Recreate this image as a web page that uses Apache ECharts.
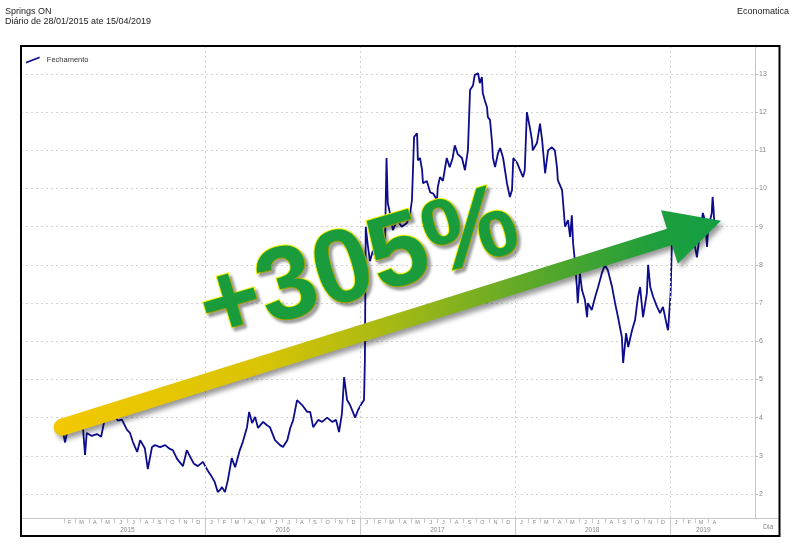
<!DOCTYPE html>
<html><head><meta charset="utf-8">
<script src="https://cdn.jsdelivr.net/npm/echarts@6/dist/echarts.min.js"></script>
<style>html,body{margin:0;padding:0;background:#fff}#c{width:800px;height:547px}</style>
</head><body><div id="c"></div>
<script>
const dates = [
'2015-01-28','2015-02-04','2015-02-10','2015-02-22','2015-03-06','2015-03-18','2015-03-23','2015-03-27','2015-04-08','2015-04-20',
'2015-04-30','2015-05-09','2015-05-21','2015-05-30','2015-06-09','2015-06-18','2015-06-30','2015-07-07','2015-07-14','2015-07-24',
'2015-07-31','2015-08-11','2015-08-18','2015-08-28','2015-09-04','2015-09-16','2015-09-28','2015-10-09','2015-10-16','2015-10-26',
'2015-11-09','2015-11-18','2015-11-26','2015-12-05','2015-12-14','2015-12-26',
'2016-01-07','2016-01-16','2016-01-23','2016-01-30','2016-02-04','2016-02-09','2016-02-16','2016-02-23','2016-03-03','2016-03-11',
'2016-03-22','2016-03-29','2016-04-08','2016-04-13','2016-04-20','2016-04-27','2016-05-04','2016-05-16','2016-05-25','2016-06-01',
'2016-06-13','2016-06-25','2016-07-02','2016-07-12','2016-07-19','2016-07-26','2016-08-04','2016-08-16','2016-08-28','2016-09-04',
'2016-09-11','2016-09-23','2016-10-02','2016-10-14','2016-10-26','2016-11-04','2016-11-11','2016-11-18','2016-11-23','2016-11-30',
'2016-12-07','2016-12-19','2016-12-26',
'2017-01-04','2017-01-09','2017-01-11','2017-01-13','2017-01-18','2017-01-23','2017-01-30','2017-02-08','2017-02-16','2017-02-27',
'2017-03-03','2017-03-06','2017-03-11','2017-03-18','2017-03-28','2017-04-08','2017-04-20','2017-04-27','2017-05-02','2017-05-07',
'2017-05-14','2017-05-16','2017-05-21','2017-05-26','2017-05-28','2017-06-06','2017-06-14','2017-06-21','2017-06-30','2017-07-02',
'2017-07-07','2017-07-14','2017-07-23','2017-07-30','2017-08-06','2017-08-11','2017-08-18','2017-08-28','2017-09-04','2017-09-11',
'2017-09-16','2017-09-23','2017-09-27','2017-10-05','2017-10-09','2017-10-14','2017-10-16','2017-10-21','2017-10-26','2017-10-28',
'2017-11-02','2017-11-07','2017-11-09','2017-11-14','2017-11-21','2017-11-26','2017-12-03','2017-12-12','2017-12-19','2017-12-24',
'2017-12-27',
'2018-01-05','2018-01-12','2018-01-19','2018-01-23','2018-01-28','2018-02-04','2018-02-09','2018-02-11','2018-02-21','2018-02-28',
'2018-03-05','2018-03-12','2018-03-19','2018-03-28','2018-04-04','2018-04-09','2018-04-11','2018-04-21','2018-04-23','2018-04-28',
'2018-05-05','2018-05-10','2018-05-14','2018-05-17','2018-05-21','2018-05-26','2018-05-28','2018-06-02','2018-06-07','2018-06-14',
'2018-06-19','2018-06-21','2018-06-30','2018-07-08','2018-07-15','2018-07-24','2018-07-31','2018-08-07','2018-08-17','2018-08-24',
'2018-08-31','2018-09-09','2018-09-12','2018-09-19','2018-09-24','2018-10-03','2018-10-10','2018-10-17','2018-10-22','2018-10-29',
'2018-11-07','2018-11-10','2018-11-15','2018-11-22','2018-12-01','2018-12-08','2018-12-15','2018-12-25','2018-12-27',
'2019-01-02','2019-01-05','2019-01-12','2019-01-24','2019-02-05','2019-02-16','2019-02-28','2019-03-05','2019-03-12','2019-03-19',
'2019-03-24','2019-03-29','2019-03-31','2019-04-09','2019-04-11','2019-04-13','2019-04-15'
];
const closes = [
3.75,3.35,3.70,3.73,3.70,3.75,3.02,3.60,3.52,3.57,
3.50,4.00,3.94,4.05,3.92,3.95,3.68,3.60,3.36,3.10,
3.41,3.20,2.65,3.23,3.28,3.23,3.28,3.18,3.15,2.92,
2.73,3.15,2.97,2.79,2.73,2.84,
2.60,2.45,2.31,2.05,2.10,2.18,2.05,2.37,2.94,2.70,
3.15,3.36,3.75,4.15,3.86,4.02,3.73,3.89,3.80,3.75,
3.41,3.28,3.23,3.41,3.73,3.94,4.46,4.33,4.15,4.15,
3.75,3.94,3.89,4.00,3.89,3.94,3.62,4.12,5.06,4.46,
4.33,4.00,4.20,
4.38,4.46,5.50,9.00,8.50,8.10,8.38,8.10,8.45,8.30,
10.80,9.62,9.36,8.91,9.17,9.00,9.10,9.30,9.70,11.35,
11.45,10.74,10.80,10.48,10.14,10.20,9.90,9.87,9.70,10.04,
10.30,10.20,10.80,10.56,10.80,11.13,10.90,10.80,10.48,11.00,
12.58,12.70,12.97,13.02,12.76,12.92,12.50,12.30,12.13,11.87,
11.80,11.20,10.80,10.56,10.93,11.06,10.80,10.14,9.78,9.96,
10.80,
10.67,10.48,10.30,10.48,12.00,11.60,11.27,11.00,11.20,11.70,
11.27,10.40,11.00,11.08,11.00,10.56,10.22,9.96,9.70,9.00,
9.17,8.73,9.30,8.57,8.13,7.42,7.00,7.79,7.34,7.08,
6.63,7.00,6.82,7.16,7.42,7.79,8.00,7.86,7.42,7.00,
6.63,6.11,5.43,6.21,5.85,6.29,6.55,7.16,7.42,6.63,
7.26,8.00,7.42,7.16,6.90,6.74,6.90,6.37,6.29,
7.26,8.57,8.96,8.78,8.65,8.86,8.52,8.20,8.83,9.36,
9.17,8.47,8.91,9.36,9.78,9.50,9.10
];
const monthLetters = ['J','F','M','A','M','J','J','A','S','O','N','D'];
const yearLabels = ['2015','2016','2017','2018','2019'];
const yearLabelDates = ['2015-07-01','2016-07-01','2017-07-01','2018-07-01','2019-03-20'];
const yearBoundaryDates = ['2016-01-01','2017-01-01','2018-01-01','2019-01-01'];
const seriesName = 'Fechamento';
const overlayText = '+305%';

const P = s => { const a = s.split('-').map(Number); return new Date(a[0], a[1] - 1, a[2]).getTime(); };
const tMin = P('2014-10-23'), tMax = P('2019-07-20');
const tFirst = P(dates[0]), tLastLabel = P('2019-04-15');
const monthStarts = [], monthMids = [];
for (let y = 2015; y <= 2019; y++) {
  for (let m = 0; m < 12; m++) {
    const s = new Date(y, m, 1).getTime();
    const mid = new Date(y, m, 15).getTime();
    if (s > tFirst - 864e5 && s <= tLastLabel) monthStarts.push(s);
    if (mid > tFirst - 20 * 864e5 && s > tFirst - 864e5 && mid <= tLastLabel) monthMids.push(mid);
  }
}
const yearMids = yearLabelDates.map(P);
const yearBounds = yearBoundaryDates.map(P);
const FONT = '"Liberation Sans", Arial, sans-serif';
const dotted = { type: [2, 3], color: '#d2d2d2', width: 1 };

const chart = echarts.init(document.getElementById('c'));
chart.setOption({
  backgroundColor: '#fff',
  animation: false,
  textStyle: { fontFamily: FONT },
  title: [
    { text: 'Springs ON', subtext: 'Diário de 28/01/2015 ate 15/04/2019', left: 5, top: 7, itemGap: 1, padding: 0,
      textStyle: { fontSize: 9, fontWeight: 'normal', color: '#222', fontFamily: FONT },
      subtextStyle: { fontSize: 9, color: '#222', fontFamily: FONT } },
    { text: 'Economatica', right: 11, top: 7, padding: 0,
      textStyle: { fontSize: 9, fontWeight: 'normal', color: '#222', fontFamily: FONT } }
  ],
  legend: {
    data: [{ name: seriesName, icon: 'path://M0,6 L14,0.5 L14,2.2 L0,7.7 Z' }],
    left: 26, top: 56, padding: 0, itemWidth: 14, itemHeight: 7, itemGap: 10,
    textStyle: { fontSize: 7.5, color: '#333', fontFamily: FONT, padding: [0, 0, 0, 2] }
  },
  grid: [
    { left: 21, right: 45, top: 74, bottom: 53, outerBoundsMode: 'none' },
    { left: 21, right: 45, top: 46, bottom: 29, outerBoundsMode: 'none' }
  ],
  xAxis: [
    { type: 'time', gridIndex: 0, min: tMin, max: tMax, show: false },
    { type: 'value', gridIndex: 1, min: tMin, max: tMax, position: 'bottom',
      axisLine: { show: true, lineStyle: { color: '#c8c8c8', width: 1 } },
      axisTick: { show: true, customValues: monthStarts, length: 5, lineStyle: { color: '#c8c8c8' } },
      axisLabel: { customValues: monthMids, formatter: v => monthLetters[new Date(v).getMonth()],
        fontSize: 5.5, color: '#888', margin: 1, fontFamily: FONT },
      splitLine: { show: false } },
    { type: 'value', gridIndex: 1, min: tMin, max: tMax, position: 'bottom',
      axisLine: { show: false },
      axisTick: { show: true, customValues: yearBounds, length: 18, lineStyle: { color: '#c8c8c8' } },
      axisLabel: { customValues: yearMids, formatter: v => yearLabels[new Date(v).getFullYear() - 2015],
        fontSize: 6.5, color: '#888', margin: 9, fontFamily: FONT },
      splitLine: { show: false },
      name: 'Dia', nameLocation: 'end', nameGap: 8,
      nameTextStyle: { fontSize: 7, color: '#888', fontFamily: FONT, verticalAlign: 'top', padding: [6, 0, 0, 0] } }
  ],
  yAxis: [
    { type: 'value', gridIndex: 0, position: 'right', min: 2, max: 13, interval: 1,
      axisLine: { show: false },
      axisTick: { show: true, length: 3, lineStyle: { color: '#bbb' } },
      axisLabel: { fontSize: 7, color: '#888', margin: 4, fontFamily: FONT },
      splitLine: { show: true, lineStyle: dotted } },
    { type: 'value', gridIndex: 1, position: 'right', min: 0, max: 1,
      axisLine: { show: true, lineStyle: { color: '#c8c8c8', width: 1 } },
      axisTick: { show: false }, axisLabel: { show: false }, splitLine: { show: false } }
  ],
  series: [{
    name: seriesName, type: 'line', xAxisIndex: 0, yAxisIndex: 0,
    data: dates.map((d, i) => [P(d), closes[i]]),
    showSymbol: false, symbol: 'none', clip: false, z: 3,
    lineStyle: { color: '#0c0c8c', width: 1.8 }, itemStyle: { color: '#0c0c8c' }
  }, {
    name: 'yearGrid', type: 'line', xAxisIndex: 1, yAxisIndex: 1, data: [], z: 1,
    markLine: { silent: true, symbol: 'none', animation: false, label: { show: false },
      lineStyle: dotted, emphasis: { disabled: true },
      data: yearBounds.map(t => ({ xAxis: t })) }
  }]
});

// Arrow anchored to first and last data points
const p0 = chart.convertToPixel({ xAxisIndex: 0, yAxisIndex: 0 }, [P(dates[0]), closes[0]]);
const p1 = chart.convertToPixel({ xAxisIndex: 0, yAxisIndex: 0 }, [P(dates[dates.length - 1]), closes[closes.length - 1]]);
const dx = p1[0] - p0[0], dy = p1[1] - p0[1];
const len = Math.sqrt(dx * dx + dy * dy);
const u = [dx / len, dy / len], n = [-u[1], u[0]];
const halfW = 8.5, headHalf = 28, headLen = 54, L = len + 7;
const T = [p0[0] + L * u[0], p0[1] + L * u[1]];
const B = [T[0] - headLen * u[0], T[1] - headLen * u[1]];
const pts = [];
for (let k = 0; k <= 12; k++) {
  const th = Math.PI * k / 12;
  pts.push([p0[0] + halfW * (Math.cos(th) * n[0] - Math.sin(th) * u[0]),
            p0[1] + halfW * (Math.cos(th) * n[1] - Math.sin(th) * u[1])]);
}
pts.push([B[0] - halfW * n[0], B[1] - halfW * n[1]]);
pts.push([B[0] - headHalf * n[0], B[1] - headHalf * n[1]]);
pts.push(T);
pts.push([B[0] + headHalf * n[0], B[1] + headHalf * n[1]]);
pts.push([B[0] + halfW * n[0], B[1] + halfW * n[1]]);

chart.setOption({
  graphic: [
    { type: 'rect', shape: { x: 21, y: 46, width: 758.5, height: 490 }, z: 60,
      style: { fill: 'transparent', stroke: '#000', lineWidth: 2 }, silent: true },
    { type: 'line', shape: { x1: 755, y1: 518.5, x2: 779, y2: 518.5 }, z: 10,
      style: { stroke: '#c8c8c8', lineWidth: 1 }, silent: true },
    { type: 'polygon', shape: { points: pts }, z: 50, silent: true,
      style: {
        fill: new echarts.graphic.LinearGradient(p0[0], 0, T[0], 0, [
          { offset: 0, color: '#f2c800' }, { offset: 0.3, color: '#d9c405' },
          { offset: 0.5, color: '#a6b914' }, { offset: 0.72, color: '#5aa82a' },
          { offset: 0.9, color: '#1e9e3c' }, { offset: 1, color: '#13a044' }], true),
        shadowBlur: 5, shadowColor: 'rgba(0,0,0,0.4)', shadowOffsetX: 3, shadowOffsetY: 4
      } },
    { type: 'text', x: 359, y: 268, rotation: 0.29, z: 55, silent: true,
      style: {
        text: overlayText, font: 'bold 104px "Liberation Sans", Arial, sans-serif',
        fill: '#1a9c3c', stroke: '#f2f000', lineWidth: 2,
        align: 'center', verticalAlign: 'middle',
        textShadowBlur: 3, textShadowColor: 'rgba(0,0,0,0.35)', textShadowOffsetX: 3, textShadowOffsetY: 3,
        shadowBlur: 3, shadowColor: 'rgba(0,0,0,0.35)', shadowOffsetX: 3, shadowOffsetY: 3
      } }
  ]
});
</script></body></html>
